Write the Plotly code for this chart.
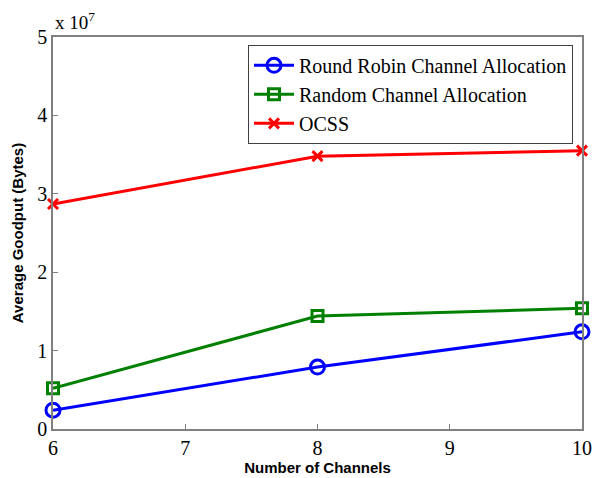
import plotly.graph_objects as go

channels = [6, 8, 10]
round_robin = [0.24e7, 0.79e7, 1.24e7]
random_alloc = [0.52e7, 1.44e7, 1.54e7]
ocss = [2.87e7, 3.48e7, 3.55e7]

x_ticks = [6, 7, 8, 9, 10]
y_tickvals = [0, 1e7, 2e7, 3e7, 4e7, 5e7]
y_ticktext = ["0", "1", "2", "3", "4", "5"]

SERIF = "Liberation Serif"
SANS = "Liberation Sans"

fig = go.Figure()
fig.add_trace(go.Scatter(
    x=channels, y=round_robin, mode="lines+markers",
    name="Round Robin Channel Allocation", cliponaxis=False,
    line=dict(color="#0000ff", width=3),
    marker=dict(symbol="circle-open", size=14, color="#0000ff", line=dict(width=3)),
))
fig.add_trace(go.Scatter(
    x=channels, y=random_alloc, mode="lines+markers",
    name="Random Channel Allocation", cliponaxis=False,
    line=dict(color="#008000", width=3),
    marker=dict(symbol="square-open", size=11, color="#008000", line=dict(width=3)),
))
fig.add_trace(go.Scatter(
    x=channels, y=ocss, mode="lines+markers",
    name="OCSS", cliponaxis=False,
    line=dict(color="#ff0000", width=3),
    marker=dict(symbol="x-thin", size=10, color="#ff0000", line=dict(width=3, color="#ff0000")),
))

axis_common = dict(
    showgrid=False, zeroline=False, showline=True, linecolor="#808080", linewidth=1.5,
    mirror=True, ticks="inside", ticklen=5, tickcolor="#808080", automargin=False,
    tickfont=dict(family=SERIF, size=20, color="black"),
)
fig.update_xaxes(range=[6, 10], tickvals=x_ticks,
                 title=dict(text="<b>Number of Channels</b>", font=dict(family=SANS, size=15, color="black"), standoff=2),
                 **axis_common)
fig.update_yaxes(range=[0, 5e7], tickvals=y_tickvals, ticktext=y_ticktext,
                 title=dict(text="<b>Average Goodput (Bytes)</b>", font=dict(family=SANS, size=15, color="black"), standoff=10),
                 **axis_common)

fig.add_annotation(xref="paper", yref="paper", x=0, y=1, xanchor="left", yanchor="bottom",
                   text="x 10<sup>7</sup>", showarrow=False, yshift=2,
                   font=dict(family=SERIF, size=19, color="black"))

fig.update_layout(
    width=597, height=478,
    margin=dict(l=53, r=15, t=37, b=49, autoexpand=False),
    paper_bgcolor="white", plot_bgcolor="white",
    font=dict(family=SERIF),
    showlegend=True,
    legend=dict(x=0.983, y=0.98, xanchor="right", yanchor="top",
                bgcolor="white", bordercolor="#404040", borderwidth=1,
                font=dict(family=SERIF, size=20, color="black"),
                itemwidth=40, tracegroupgap=0),
)

fig.write_html("out.html", config={"displayModeBar": False},
               post_script="document.body.style.margin='0px';document.body.style.overflow='hidden';")
